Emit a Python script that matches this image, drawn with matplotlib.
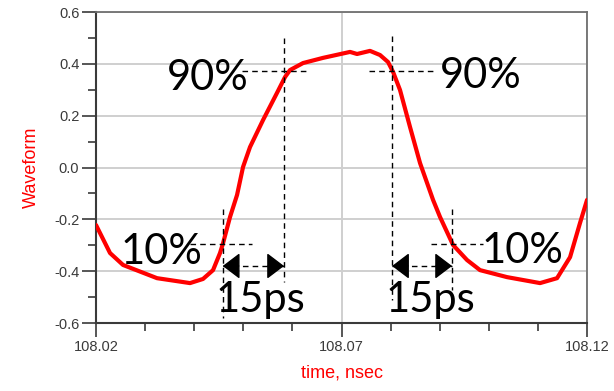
import matplotlib
matplotlib.use("Agg")
import matplotlib.pyplot as plt
from matplotlib.ticker import MultipleLocator, FixedLocator

plt.rcParams["font.family"] = ["Liberation Sans", "DejaVu Sans"]

# waveform (time in ns, amplitude)
time_ns = [108.0200, 108.02285, 108.02550, 108.03242, 108.03914, 108.04179, 108.04383,
           108.04525, 108.04587, 108.04729, 108.04872, 108.04994, 108.05136, 108.05401,
           108.05686, 108.05849, 108.05951, 108.06216, 108.06623, 108.07173, 108.07316,
           108.07580, 108.07784, 108.07947, 108.08049, 108.08191, 108.08395, 108.08599,
           108.08864, 108.09006, 108.09271, 108.09556, 108.09821, 108.10371, 108.11043,
           108.11389, 108.11654, 108.11857, 108.12000]
wave = [-0.222, -0.330, -0.376, -0.427, -0.446, -0.430, -0.396,
        -0.330, -0.292, -0.191, -0.106, 0.002, 0.079, 0.183,
        0.288, 0.349, 0.376, 0.403, 0.423, 0.446, 0.438,
        0.450, 0.434, 0.407, 0.369, 0.299, 0.156, 0.017,
        -0.125, -0.191, -0.299, -0.357, -0.396, -0.423, -0.446,
        -0.427, -0.346, -0.214, -0.125]

xticks = [108.02, 108.07, 108.12]
xtick_labels = ["108.02", "108.07", "108.12"]

# 10% / 90% markers
lvl10 = -0.295
lvl90 = 0.373
arrow_y = -0.380
rise = (108.04580, 108.05829)
fall = (108.08029, 108.09251)

red = "#ff0000"
dark = "#3a3a3a"

fig = plt.figure(figsize=(6.14, 3.91), dpi=100)
ax = fig.add_axes([0.1564, 0.1739, 0.7997, 0.7954])

ax.set_xlim(108.02, 108.12)
ax.set_ylim(-0.6, 0.6)
ax.xaxis.set_major_locator(FixedLocator(xticks))
ax.set_xticklabels(xtick_labels)
ax.xaxis.set_minor_locator(MultipleLocator(0.01))
ax.yaxis.set_major_locator(MultipleLocator(0.2))
ax.yaxis.set_minor_locator(MultipleLocator(0.1))
ax.set_yticklabels([f"{v:.1f}" for v in ax.get_yticks()])
ax.grid(True, which="major", color="#cfcfcf", lw=1.4)
ax.set_axisbelow(True)

ax.tick_params(which="major", length=10, width=1.2, color=dark, labelsize=10.5,
               labelcolor=dark, pad=2)
ax.tick_params(which="minor", length=6, width=1.2, color=dark)
for s in ["top", "right"]:
    ax.spines[s].set_color("#707070")
    ax.spines[s].set_linewidth(1.3)
for s in ["left", "bottom"]:
    ax.spines[s].set_color(dark)
    ax.spines[s].set_linewidth(1.5)

ax.set_ylabel("Waveform", color=red, fontsize=13, labelpad=10)
ax.set_xlabel("time, nsec", color=red, fontsize=13, labelpad=8)

ax.plot(time_ns, wave, color=red, lw=3, solid_capstyle="round", zorder=3)

dash = dict(color="black", lw=1, ls=(0, (4, 3)), zorder=4)
# rising edge
ax.plot([rise[0], rise[0]], [-0.16, -0.58], **dash)
ax.plot([rise[1], rise[1]], [0.50, -0.442], **dash)
ax.plot([108.03914, 108.05177], [lvl10, lvl10], **dash)
ax.plot([108.04973, 108.06318], [lvl90, lvl90], **dash)
# falling edge
ax.plot([fall[0], fall[0]], [0.508, -0.51], **dash)
ax.plot([fall[1], fall[1]], [-0.16, -0.473], **dash)
ax.plot([108.08823, 108.09882], [lvl10, lvl10], **dash)
ax.plot([108.07560, 108.08945], [lvl90, lvl90], **dash)

head = dict(arrowstyle="-|>,head_length=0.54,head_width=0.41", color="black",
            lw=1, mutation_scale=20, shrinkA=0, shrinkB=0)
for a, b in [rise, fall]:
    ax.plot([a, b], [arrow_y, arrow_y], **dash)
    ax.annotate("", xy=(a, arrow_y), xytext=(16, 0), textcoords="offset pixels",
                xycoords="data", arrowprops=head, zorder=5)
    ax.annotate("", xy=(b, arrow_y), xytext=(-16, 0), textcoords="offset pixels",
                xycoords="data", arrowprops=head, zorder=5)

tk = dict(fontsize=30, family="Lato", color="black", va="baseline", ha="center", zorder=6)
ax.text(108.04281, 0.299, "90%", **tk)
ax.text(108.09841, 0.307, "90%", **tk)
ax.text(108.03324, -0.373, "10%", **tk)
ax.text(108.10687, -0.369, "10%", **tk)
ax.text(108.05340, -0.558, "15ps", **tk)
ax.text(108.08802, -0.558, "15ps", **tk)

fig.savefig("out.png", dpi=100)
